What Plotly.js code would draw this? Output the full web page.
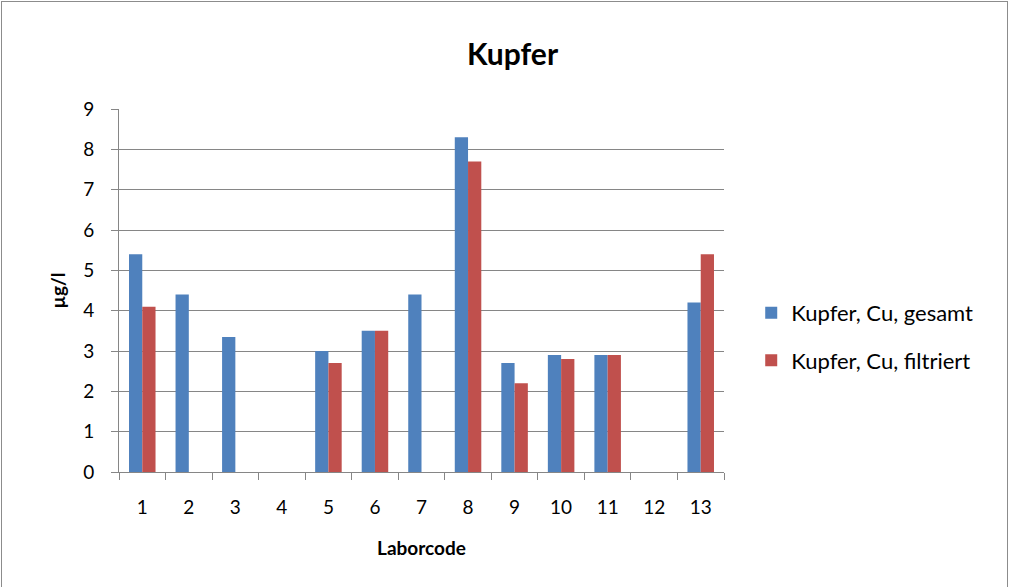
<!DOCTYPE html>
<html><head><meta charset="utf-8">
<script src="https://cdn.plot.ly/plotly-3.0.1.min.js"></script>
<style>
html,body{margin:0;padding:0;background:#fff;overflow:hidden}
#frame{position:absolute;left:1px;top:1px;width:1005px;height:600px;border:1px solid #8c8c8c;}
#chart{position:absolute;left:0;top:0;width:1009px;height:587px}
</style></head>
<body>
<div id="frame"></div>
<div id="chart"></div>
<script>
const categories = ["1","2","3","4","5","6","7","8","9","10","11","12","13"];
const gesamt    = [5.4, 4.4, 3.35, null, 3.0, 3.5, 4.4, 8.3, 2.7, 2.9, 2.9, null, 4.2];
const filtriert = [4.1, null, null, null, 2.7, 3.5, null, 7.7, 2.2, 2.8, 2.9, null, 5.4];
const seriesNames = ["Kupfer, Cu, gesamt", "Kupfer, Cu, filtriert"];
const yTicks = [0,1,2,3,4,5,6,7,8,9];

const font = "Lato, 'Noto Sans', sans-serif";
const data = [
  {type:"bar", x:categories, y:gesamt, name:seriesNames[0], legendgroup:"a",
   marker:{color:"#4f81bd"}},
  {type:"bar", x:categories, y:filtriert, name:seriesNames[1], legendgroup:"b",
   marker:{color:"#c0504d"}}
];
const layout = {
  width:1009, height:587,
  paper_bgcolor:"rgba(0,0,0,0)", plot_bgcolor:"rgba(0,0,0,0)",
  margin:{l:119, r:285, t:109, b:115},
  barmode:"group", bargap:0.43, bargroupgap:0,
  font:{family:font, size:19, color:"#000"},
  title:{text:"<b>Kupfer</b>", font:{family:font, size:30, color:"#000"},
         x:0.508, xref:"container", xanchor:"center", y:0.908, yref:"container", yanchor:"middle"},
  xaxis:{type:"category", tickson:"boundaries", ticks:"outside", ticklen:7, tickcolor:"#868686",
         showline:true, linecolor:"#868686", linewidth:1, showgrid:false,
         tickfont:{family:font, size:19}, ticklabelstandoff:18,
         title:{text:"<b>Laborcode</b>", font:{family:font, size:19}, standoff:24}},
  yaxis:{range:[0,9], tickvals:yTicks, ticks:"outside", ticklen:7, tickcolor:"#868686",
         showline:true, linecolor:"#868686", linewidth:1,
         showgrid:true, gridcolor:"#868686", gridwidth:1, zeroline:false,
         tickfont:{family:font, size:19}, ticklabelstandoff:13,
         title:{text:"<b>µg/l</b>", font:{family:font, size:19}, standoff:12}},
  showlegend:true,
  legend:{x:1.045, xanchor:"left", xref:"paper", y:0.372, yanchor:"middle",
          font:{family:font, size:22}, tracegroupgap:16, bgcolor:"rgba(0,0,0,0)"}
};
Plotly.newPlot("chart", data, layout, {staticPlot:true, displayModeBar:false});
</script>
</body></html>
